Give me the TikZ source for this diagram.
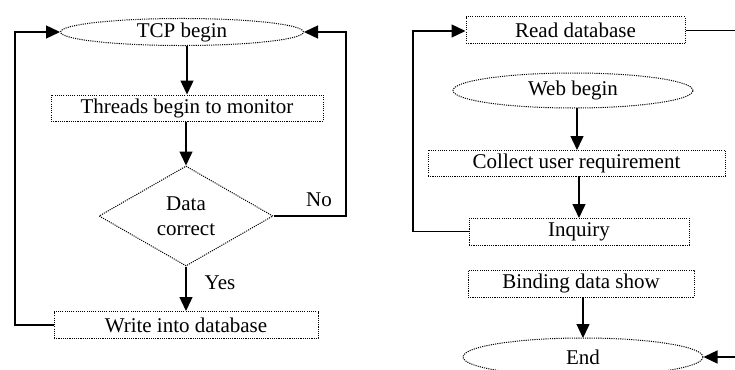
\documentclass[tikz,border=0pt]{standalone}
\usepackage{fontspec}
\setmainfont{Liberation Serif}
\usetikzlibrary{shapes.geometric,arrows.meta}
\begin{document}
\begin{tikzpicture}[x=1pt,y=-1pt,
  font=\fontsize{21}{25}\selectfont,
  dotbd/.style={draw, line width=1pt, dash pattern=on 1.1pt off 1.1pt},
  boxn/.style={dotbd, rectangle, inner sep=0pt},
  ell/.style={dotbd, ellipse, inner sep=0pt},
  dia/.style={dotbd, diamond, inner sep=0pt, align=center},
  conn/.style={line width=1.4pt},
  arr/.style={conn, -{Triangle[length=14pt,width=13pt]}},
  lbl/.style={inner sep=0pt}
]
\useasboundingbox (0,0) rectangle (735,369);
\clip (0,0) rectangle (735,369);
% left flow
\node[ell, minimum width=243pt, minimum height=22pt] (tcp) at (182,32) {TCP begin};
\node[boxn, minimum width=272pt, minimum height=26pt] (thr) at (187,108) {Threads begin to monitor};
\node[dia, minimum width=174pt, minimum height=100pt] (dc) at (186,216) {};
\node[lbl, align=center] (dct) at (186,216) {Data\\correct};
\node[boxn, minimum width=264pt, minimum height=27pt] (wr) at (186,325) {Write into database};
\node[lbl] (no) at (319,200) {No};
\node[lbl] (yes) at (220,283) {Yes};
\coordinate (l1) at (15,325);
\coordinate (l2) at (15,32);
\coordinate (r1) at (346,216);
\coordinate (r2) at (346,32);
\draw[arr] (tcp.south -| thr.north) -- (thr.north);
\draw[arr] (thr.south -| dc.north) -- (dc.north);
\draw[arr] (dc.south) -- (dc.south |- wr.north);
\draw[arr] (wr.west) -- (l1) -- (l2) -- (tcp.west);
\draw[arr] (dc.east) -- (r1) -- (r2) -- (tcp.east);
% right flow
\node[boxn, minimum width=219pt, minimum height=27pt] (rd) at (575.5,30.5) {Read database};
\node[ell, minimum width=240pt, minimum height=35pt] (web) at (573,90.5) {Web begin};
\node[boxn, minimum width=297pt, minimum height=26pt] (col) at (576.5,163) {Collect user requirement};
\node[boxn, minimum width=220pt, minimum height=27pt] (inq) at (579,231.5) {Inquiry};
\node[boxn, minimum width=226pt, minimum height=27pt] (bind) at (581,283.5) {Binding data show};
\node[ell, minimum width=240pt, minimum height=38pt] (end) at (583,357) {End};
\coordinate (q1) at (413,231.5);
\coordinate (q2) at (413,31);
\coordinate (rx1) at (745,30.5);
\coordinate (rx2) at (745,357);
\draw[arr] (577,108) -- (577,150);
\draw[arr] (579,176) -- (579,218);
\draw[arr] (583,297) -- (583,338);
\draw[arr] (inq.west) -- (q1) -- (q2) -- (rd.west |- q2);
\draw[conn] (rd.east) -- (rx1);
\draw[arr] (rx2) -- (end.east);
\end{tikzpicture}
\end{document}
